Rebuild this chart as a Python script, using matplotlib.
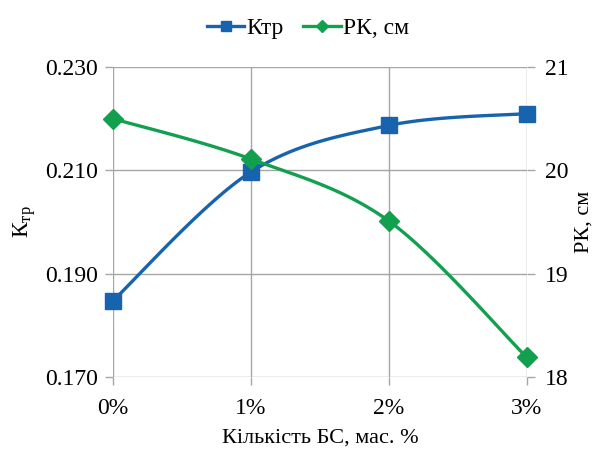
import numpy as np
import matplotlib
matplotlib.use("Agg")
import matplotlib.pyplot as plt
from matplotlib.lines import Line2D

plt.rcParams['font.family'] = ['Liberation Serif', 'DejaVu Serif']
plt.rcParams['mathtext.fontset'] = 'custom'
plt.rcParams['mathtext.rm'] = 'Liberation Serif'
plt.rcParams['mathtext.it'] = 'Liberation Serif'

# concentration of BS, mass %
conc = [0, 1, 2, 3]
conc_labels = ['0%', '1%', '2%', '3%']
k_tr = [0.1848, 0.2097, 0.2187, 0.2210]
rk_cm = [20.50, 20.11, 19.51, 18.19]

blue = '#1763AE'
green = '#12A04F'
grid_c = '#A6A6A6'


def smooth(xs, ys, n=40):
    # Catmull-Rom style smoothed line through the points
    xs = np.asarray(xs, float)
    ys = np.asarray(ys, float)
    px = np.concatenate([[xs[0]], xs, [xs[-1]]])
    py = np.concatenate([[ys[0]], ys, [ys[-1]]])
    ox, oy = [], []
    for i in range(1, len(px) - 2):
        p0, p1, p2, p3 = [np.array([px[j], py[j]]) for j in (i - 1, i, i + 1, i + 2)]
        c1 = p1 + (p2 - p0) / 6
        c2 = p2 - (p3 - p1) / 6
        t = np.linspace(0, 1, n)[:, None]
        b = ((1 - t) ** 3) * p1 + 3 * ((1 - t) ** 2) * t * c1 + 3 * (1 - t) * t ** 2 * c2 + t ** 3 * p2
        ox.extend(b[:, 0])
        oy.extend(b[:, 1])
    return np.array(ox), np.array(oy)


fig = plt.figure(figsize=(5.98, 4.5), dpi=100)
ax = fig.add_axes([0.189, 0.162, 0.692, 0.689])
ax2 = ax.twinx()

ax.set_xlim(0, 3)
ax.set_ylim(0.170, 0.230)
ax2.set_ylim(18, 21)
ax.set_yticks([0.170, 0.190, 0.210, 0.230])
ax.set_yticklabels(['0.170', '0.190', '0.210', '0.230'])
ax2.set_yticks([18, 19, 20, 21])
ax.set_xticks(conc)
ax.set_xticklabels(conc_labels)

for a in (ax, ax2):
    for s in a.spines.values():
        s.set_visible(False)
    a.tick_params(length=6, width=1, color=grid_c, labelsize=17, pad=5)

ax.grid(True, color=grid_c, lw=1)
ax.set_axisbelow(True)
ax.tick_params(axis='x', pad=9)
ax2.tick_params(pad=7)

sx, sy = smooth(conc, k_tr)
ax.plot(sx, sy, color=blue, lw=2.4, zorder=3, clip_on=False)
ax.plot(conc, k_tr, 's', color=blue, ms=11, zorder=4, clip_on=False)

rx, ry = smooth(conc, rk_cm)
ax2.plot(rx, ry, color=green, lw=2.4, zorder=3, clip_on=False)
ax2.plot(conc, rk_cm, 'D', color=green, ms=10, zorder=4, clip_on=False)

ax.set_xlabel('Кількість БС, мас. %', fontsize=16, labelpad=7)
ax.set_ylabel('К$_{\\mathrm{тр}}$', fontsize=17, labelpad=5)
ax2.set_ylabel('РК, см', fontsize=16, labelpad=4)

handles = [
    Line2D([], [], color=blue, lw=2.4, marker='s', ms=7),
    Line2D([], [], color=green, lw=2.4, marker='D', ms=6),
]
fig.legend(handles, ['Ктр', 'РК, см'], loc='center', bbox_to_anchor=(0.515, 0.937),
           ncol=2, frameon=False, fontsize=17, handlelength=1.6,
           handletextpad=0.1, columnspacing=0.8)

fig.savefig('out.png', dpi=100)
